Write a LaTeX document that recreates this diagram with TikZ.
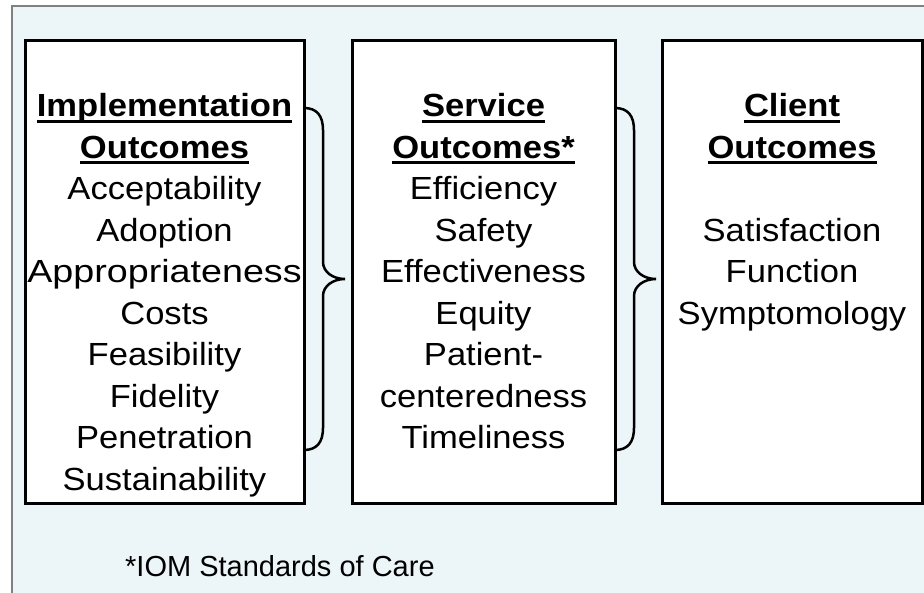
\documentclass[tikz,border=0pt]{standalone}
\usepackage{graphicx}
\usepackage{fontspec}
\setmainfont[FakeStretch=1.08]{Liberation Sans}
\newfontfamily\notefont{Liberation Sans}
\definecolor{panelbg}{RGB}{236,245,247}
\definecolor{framegray}{RGB}{128,128,128}
\newcommand{\hdr}[1]{\textbf{\setbox0\hbox{#1}\rlap{\rule[-6pt]{\wd0}{3pt}}\box0}}
\tikzset{
  outbox/.style={draw, line width=3pt, fill=white, minimum width=#1, minimum height=462pt, inner sep=0pt},
  brc/.style={line width=2.5pt, line cap=round},
  item/.style={anchor=base, inner sep=0pt, font=\fontsize{32}{41.5}\selectfont},
}
\begin{document}
\begin{tikzpicture}[x=1pt,y=-1pt]
  \useasboundingbox (0,0) rectangle (924,593);
  \clip (0,0) rectangle (924,593);
  % Nen
  \draw[framegray, fill=panelbg, line width=2pt] (11.5,6.5) rectangle (940,610);
  % Ba khung
  \node[outbox=279pt] (impl) at (164.5,272) {};
  \node[outbox=263pt] (serv) at (483.5,272) {};
  \node[outbox=260pt] (clnt) at (792,272) {};

  % Chu trong khung
  \foreach \t [count=\i] in {{\hdr{Implementation}},{\hdr{Outcomes}},Acceptability,Adoption,{\scalebox{1.09}[1]{Appropriateness}},Costs,Feasibility,Fidelity,Penetration,Sustainability}
    \node[item] (impl\i) at (164.5,{117+(\i-1)*41.5}) {\t};
  \foreach \t [count=\i] in {{\hdr{Service}},{\hdr{Outcomes*}},Efficiency,Safety,Effectiveness,Equity,Patient-,centeredness,Timeliness}
    \node[item] (serv\i) at (483.5,{117+(\i-1)*41.5}) {\t};
  \foreach \i/\t in {1/{\hdr{Client}},2/{\hdr{Outcomes}},4/Satisfaction,5/Function,6/Symptomology}
    \node[item] (clnt\i) at (792,{117+(\i-1)*41.5}) {\t};

  % Ngoac nhon
  \coordinate (b1) at (304,108);
  \coordinate (b2) at (615,108);
  \foreach \s in {b1,b2}
    \draw[brc] (\s) .. controls +(13,0) and +(0,-14) .. ++(19,22) -- ++(0,132)
      .. controls +(0,10) and +(-12,0) .. ++(22,17)
      .. controls +(-12,0) and +(0,-10) .. ++(-22,17) -- ++(0,132)
      .. controls +(0,14) and +(13,0) .. ++(-19,22);

  % Ghi chu
  \node[anchor=base west, inner sep=0pt, font=\notefont\fontsize{29}{34}\selectfont] (note) at (125,576) {*IOM Standards of Care};
\end{tikzpicture}
\end{document}
